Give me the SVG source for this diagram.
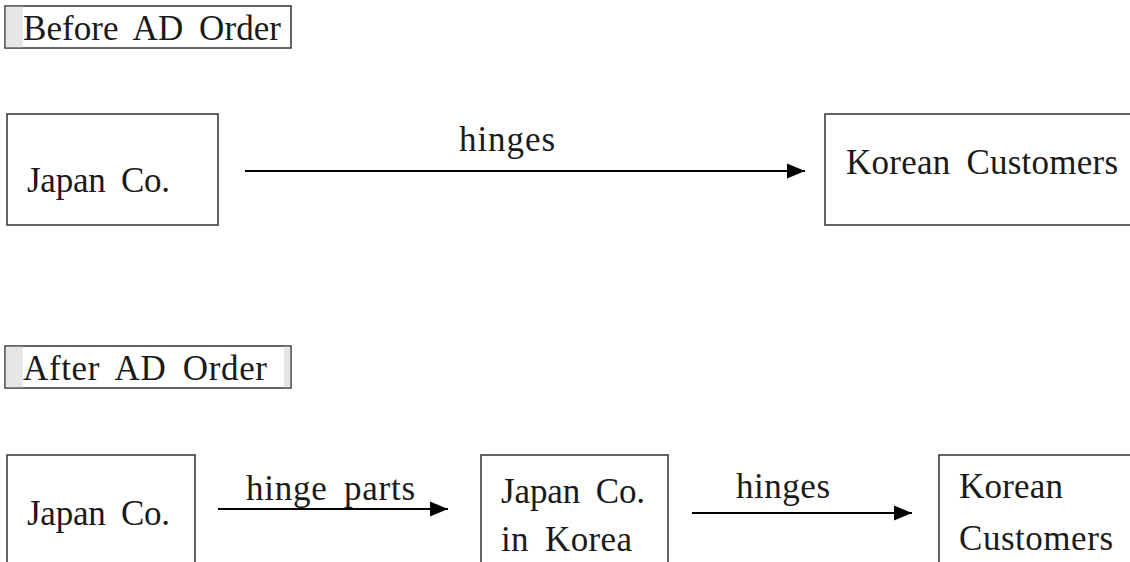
<svg xmlns="http://www.w3.org/2000/svg" width="1130" height="562" viewBox="0 0 1130 562">
<style>
text{font-family:"Liberation Serif","Times New Roman",serif;font-size:35px;fill:#1a1a1a;word-spacing:7px}
.box{fill:#fff;stroke:#333;stroke-width:1.5}
.strip{fill:#e6e6e6}
.conn{stroke:#000;stroke-width:1.8;fill:none;marker-end:url(#ah)}
</style>
<defs>
<marker id="ah" markerUnits="userSpaceOnUse" markerWidth="18" markerHeight="16" refX="18" refY="8" orient="auto">
<path d="M0,0.5 L18,8 L0,15.5 z" fill="#000"/>
</marker>
</defs>
<rect width="1130" height="562" fill="#fff"/>
<g id="title-before">
<rect class="box" x="5" y="6" width="286" height="42"/>
<rect class="strip" x="5.75" y="6.75" width="17" height="40.5"/>
<text x="23" y="40" textLength="258" lengthAdjust="spacing">Before AD Order</text>
</g>
<g id="title-after">
<rect class="box" x="5" y="346" width="286" height="42"/>
<rect class="strip" x="5.75" y="346.75" width="17" height="40.5"/>
<rect class="strip" x="284" y="346.75" width="6.25" height="40.5"/>
<text x="23" y="380" textLength="244" lengthAdjust="spacing">After AD Order</text>
</g>
<g id="node-japan-top">
<rect class="box" x="7" y="114" width="211" height="111"/>
<text x="27" y="192" textLength="143" lengthAdjust="spacing">Japan Co.</text>
</g>
<g id="node-korean-top">
<rect class="box" x="825" y="114" width="320" height="111"/>
<text x="846" y="174" textLength="272" lengthAdjust="spacing">Korean Customers</text>
</g>
<g id="node-japan-bottom">
<rect class="box" x="7" y="455" width="188" height="120"/>
<text x="27" y="525" textLength="143" lengthAdjust="spacing">Japan Co.</text>
</g>
<g id="node-japan-korea">
<rect class="box" x="481" y="455" width="187" height="120"/>
<text x="501" y="503" textLength="144" lengthAdjust="spacing">Japan Co.</text>
<text x="501" y="551" textLength="131" lengthAdjust="spacing">in Korea</text>
</g>
<g id="node-korean-bottom">
<rect class="box" x="939" y="455" width="200" height="120"/>
<text x="959" y="498" textLength="104" lengthAdjust="spacing">Korean</text>
<text x="959" y="550" textLength="154" lengthAdjust="spacing">Customers</text>
</g>
<g id="connectors">
<line class="conn" x1="245" y1="171" x2="805" y2="171"/>
<text x="459" y="151" textLength="96" lengthAdjust="spacing">hinges</text>
<line class="conn" x1="218" y1="509" x2="448" y2="509"/>
<text x="246" y="500" textLength="169" lengthAdjust="spacing">hinge parts</text>
<line class="conn" x1="692" y1="513" x2="912" y2="513"/>
<text x="736" y="498" textLength="94" lengthAdjust="spacing">hinges</text>
</g>
</svg>
